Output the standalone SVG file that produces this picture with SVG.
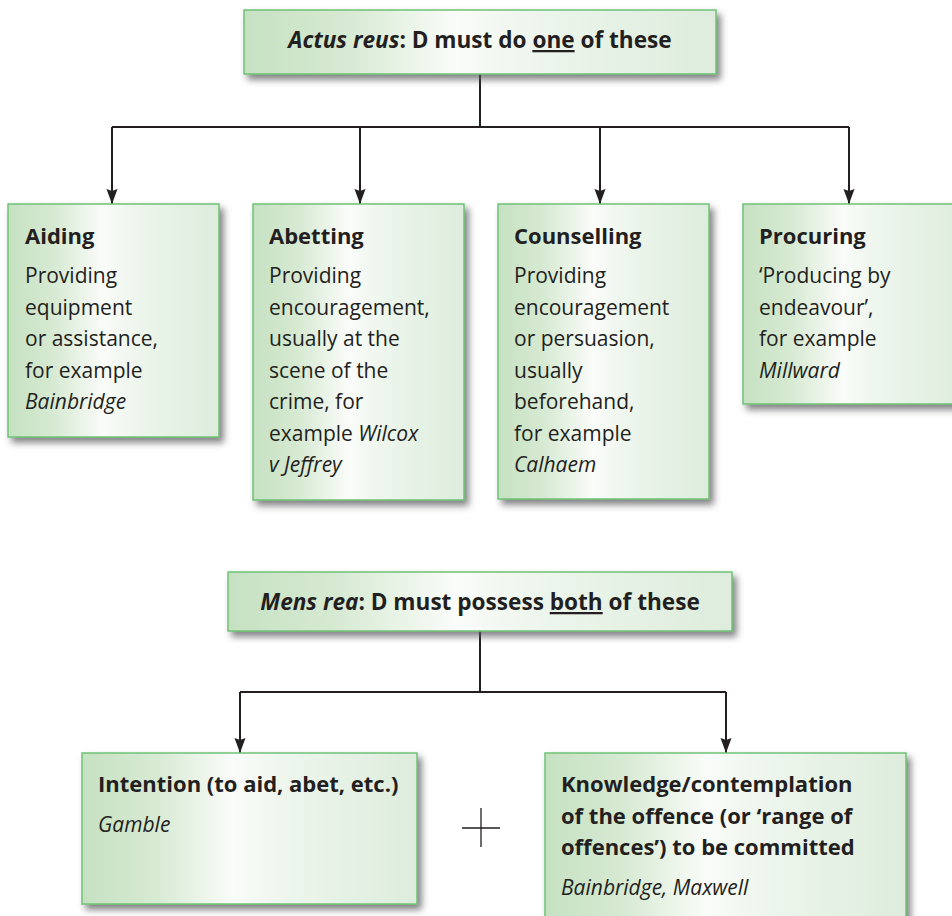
<svg xmlns="http://www.w3.org/2000/svg" width="952" height="916" viewBox="0 0 952 916">
  <style>
    .box { fill: url(#boxFill); stroke: #6fc276; stroke-width: 1.5; filter: url(#shadow); }
    .link { fill: none; stroke: #231f20; stroke-width: 2; }
    .arrow { marker-end: url(#arrowHead); }
    text { font-family: "Open Sans", "Liberation Sans", sans-serif; fill: #231f20; }
    .head { font-size: 22.6px; font-weight: bold; }
    .title { font-size: 22px; font-weight: bold; }
    .body { font-size: 21px; }
    .case { font-style: italic; }
  </style>
  <defs>
    <linearGradient id="boxFill" x1="0" y1="0" x2="1" y2="0">
      <stop offset="0" stop-color="#c6e1c2"/>
      <stop offset="0.22" stop-color="#d7ead3"/>
      <stop offset="0.45" stop-color="#fafcf9"/>
      <stop offset="0.6" stop-color="#eef6ed"/>
      <stop offset="1" stop-color="#ddecdc"/>
    </linearGradient>
    <filter id="shadow" x="-10%" y="-10%" width="130%" height="130%">
      <feDropShadow dx="4" dy="5" stdDeviation="3.5" flood-color="#58595b" flood-opacity="0.75"/>
    </filter>
    <marker id="arrowHead" markerUnits="userSpaceOnUse" markerWidth="16" markerHeight="12" refX="15" refY="6" orient="auto">
      <path d="M0,0.5 L15,6 L0,11.5 L2,6 z" fill="#231f20"/>
    </marker>
  </defs>

  <!-- connectors -->
  <g id="connectors">
    <path class="link" d="M480,74 V127"/>
    <path class="link" d="M112,127 H849"/>
    <path class="link arrow" d="M112,127 V204"/>
    <path class="link arrow" d="M360,127 V204"/>
    <path class="link arrow" d="M600,127 V204"/>
    <path class="link arrow" d="M849,127 V204"/>
    <path class="link" d="M480,631 V692"/>
    <path class="link" d="M240,692 H726"/>
    <path class="link arrow" d="M240,692 V753"/>
    <path class="link arrow" d="M726,692 V753"/>
  </g>

  <!-- actus reus -->
  <g id="actus-reus">
    <rect class="box" x="244" y="10" width="472" height="64"/>
    <text class="head" x="480" y="48" text-anchor="middle"><tspan font-style="italic">Actus reus</tspan>: D must do <tspan text-decoration="underline">one</tspan> of these</text>
  </g>

  <g id="aiding">
    <rect class="box" x="8" y="204" width="211" height="233"/>
    <text class="title" x="25" y="244">Aiding</text>
    <text class="body" x="25" y="283">Providing</text>
    <text class="body" x="25" y="314.5">equipment</text>
    <text class="body" x="25" y="346">or assistance,</text>
    <text class="body" x="25" y="377.5">for example</text>
    <text class="body case" x="25" y="409">Bainbridge</text>
  </g>

  <g id="abetting">
    <rect class="box" x="253" y="204" width="211" height="296"/>
    <text class="title" x="269" y="244">Abetting</text>
    <text class="body" x="269" y="283">Providing</text>
    <text class="body" x="269" y="314.5">encouragement,</text>
    <text class="body" x="269" y="346">usually at the</text>
    <text class="body" x="269" y="377.5">scene of the</text>
    <text class="body" x="269" y="409">crime, for</text>
    <text class="body" x="269" y="440.5">example <tspan class="case">Wilcox</tspan></text>
    <text class="body case" x="269" y="472">v Jeffrey</text>
  </g>

  <g id="counselling">
    <rect class="box" x="498" y="204" width="211" height="295"/>
    <text class="title" x="514" y="244">Counselling</text>
    <text class="body" x="514" y="283">Providing</text>
    <text class="body" x="514" y="314.5">encouragement</text>
    <text class="body" x="514" y="346">or persuasion,</text>
    <text class="body" x="514" y="377.5">usually</text>
    <text class="body" x="514" y="409">beforehand,</text>
    <text class="body" x="514" y="440.5">for example</text>
    <text class="body case" x="514" y="472">Calhaem</text>
  </g>

  <g id="procuring">
    <rect class="box" x="743" y="204" width="222" height="200"/>
    <text class="title" x="759" y="244">Procuring</text>
    <text class="body" x="759" y="283">‘Producing by</text>
    <text class="body" x="759" y="314.5">endeavour’,</text>
    <text class="body" x="759" y="346">for example</text>
    <text class="body case" x="759" y="377.5">Millward</text>
  </g>

  <!-- mens rea -->
  <g id="mens-rea">
    <rect class="box" x="228" y="572" width="504" height="59"/>
    <text class="head" x="480" y="610" text-anchor="middle"><tspan font-style="italic">Mens rea</tspan>: D must possess <tspan text-decoration="underline">both</tspan> of these</text>
  </g>

  <g id="intention">
    <rect class="box" x="82" y="753" width="335" height="151"/>
    <text class="title" x="98" y="792">Intention (to aid, abet, etc.)</text>
    <text class="body case" x="98" y="832">Gamble</text>
  </g>

  <g id="plus">
    <path d="M462,828 H500 M481,808 V847" stroke="#231f20" stroke-width="1.3" fill="none"/>
  </g>

  <g id="knowledge">
    <rect class="box" x="545" y="753" width="361" height="180"/>
    <text class="title" x="561" y="792">Knowledge/contemplation</text>
    <text class="title" x="561" y="823.5">of the offence (or ‘range of</text>
    <text class="title" x="561" y="855">offences’) to be committed</text>
    <text class="body case" x="561" y="895">Bainbridge, Maxwell</text>
  </g>
</svg>
